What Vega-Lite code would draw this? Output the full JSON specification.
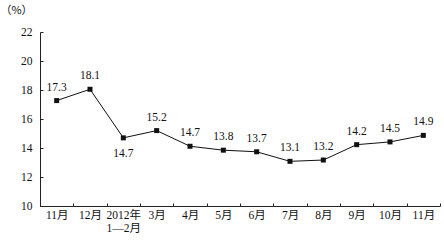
{
  "$schema": "https://vega.github.io/schema/vega-lite/v6.json",
  "width": 400,
  "height": 174,
  "autosize": {"type": "none"},
  "padding": {"left": 40, "top": 32, "right": 4, "bottom": 37},
  "background": "white",
  "config": {
    "view": {"stroke": null},
    "font": "Liberation Serif, DejaVu Serif, serif",
    "axis": {"labelFont": "Liberation Serif, DejaVu Serif, Noto Sans CJK SC, serif", "labelColor": "#111", "domainColor": "#222", "tickColor": "#222", "grid": false}
  },
  "data": {
    "values": [
      {"month": "11月a", "value": 17.27, "label": "17.3"},
      {"month": "12月a", "value": 18.05, "label": "18.1"},
      {"month": "2012年1—2月", "value": 14.7, "label": "14.7"},
      {"month": "3月", "value": 15.2, "label": "15.2"},
      {"month": "4月", "value": 14.12, "label": "14.7"},
      {"month": "5月", "value": 13.85, "label": "13.8"},
      {"month": "6月", "value": 13.74, "label": "13.7"},
      {"month": "7月", "value": 13.08, "label": "13.1"},
      {"month": "8月", "value": 13.17, "label": "13.2"},
      {"month": "9月", "value": 14.23, "label": "14.2"},
      {"month": "10月", "value": 14.42, "label": "14.5"},
      {"month": "11月b", "value": 14.87, "label": "14.9"}
    ]
  },
  "encoding": {
    "x": {
      "field": "month", "type": "nominal", "sort": null,
      "scale": {"paddingInner": 0, "paddingOuter": 0},
      "axis": {
        "title": null, "labelAngle": 0, "labelFontSize": 11.5, "labelPadding": 6,
        "tickSize": -3, "tickBand": "extent",
        "labelExpr": "datum.value == null ? '' : (datum.value == '2012年1—2月' ? ['2012年', '1—2月'] : replace(replace(datum.value, 'a', ''), 'b', ''))"
      }
    },
    "y": {
      "field": "value", "type": "quantitative",
      "scale": {"domain": [10, 22], "nice": false, "zero": false},
      "axis": {
        "values": [10, 12, 14, 16, 18, 20, 22], "labelFontSize": 11.5, "labelPadding": 11, "tickSize": -3,
        "title": "（%）", "titleAngle": 0, "titleFontSize": 11, "titleFontWeight": "normal",
        "titleFont": "Noto Sans CJK SC", "titleX": -24, "titleY": -22, "titleAlign": "center", "titleBaseline": "middle", "titleColor": "#111"
      }
    }
  },
  "layer": [
    {"mark": {"type": "line", "color": "#111", "strokeWidth": 1}},
    {"mark": {"type": "square", "color": "#111", "filled": true, "opacity": 1, "size": 25}},
    {
      "transform": [{"filter": "datum.month != '2012年1—2月'"}],
      "mark": {"type": "text", "dy": -13, "fontSize": 11.5, "font": "Liberation Serif, DejaVu Serif, serif", "color": "#111", "baseline": "middle"},
      "encoding": {"text": {"field": "label"}}
    },
    {
      "transform": [{"filter": "datum.month == '2012年1—2月'"}],
      "mark": {"type": "text", "dy": 16, "fontSize": 11.5, "font": "Liberation Serif, DejaVu Serif, serif", "color": "#111", "baseline": "middle"},
      "encoding": {"text": {"field": "label"}}
    }
  ]
}
